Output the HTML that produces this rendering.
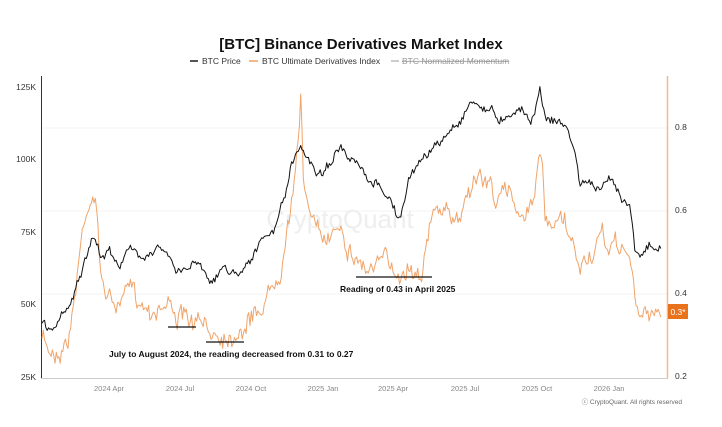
<!DOCTYPE html>
<html><head><meta charset="utf-8"><style>
body{margin:0;background:#fff;width:722px;height:422px;overflow:hidden;font-family:"Liberation Sans",sans-serif}
</style></head><body>
<svg id="s" width="722" height="422" xmlns="http://www.w3.org/2000/svg" font-family="Liberation Sans, sans-serif">
<text x="361" y="49" text-anchor="middle" font-size="15" font-weight="bold" fill="#111">[BTC] Binance Derivatives Market Index</text>
<line x1="190" y1="61" x2="198" y2="61" stroke="#555" stroke-width="2"/>
<text x="202" y="64" font-size="8.5" fill="#333">BTC Price</text>
<line x1="249" y1="61" x2="258" y2="61" stroke="#f3b98a" stroke-width="2"/>
<text x="262" y="64" font-size="8.5" fill="#333">BTC Ultimate Derivatives Index</text>
<line x1="391" y1="61" x2="399" y2="61" stroke="#ccc" stroke-width="2"/>
<text x="402" y="64" font-size="8.5" fill="#999" text-decoration="line-through">BTC Normalized Momentum</text>
<g stroke="#f3f3f3" stroke-width="1">
<line x1="42" y1="128" x2="667" y2="128"/><line x1="42" y1="211" x2="667" y2="211"/><line x1="42" y1="294" x2="667" y2="294"/>
</g>
<text x="340" y="228" text-anchor="middle" font-size="26" fill="#eee">CryptoQuant</text>
<line x1="41.5" y1="76" x2="41.5" y2="378" stroke="#333"/>
<line x1="41" y1="378.5" x2="668" y2="378.5" stroke="#ccc"/>
<line x1="667.5" y1="76" x2="667.5" y2="378" stroke="#f3b98a" stroke-width="1.5"/>
<g font-size="8.5" fill="#333" text-anchor="end">
<text x="36" y="90">125K</text><text x="36" y="162">100K</text><text x="36" y="235">75K</text><text x="36" y="307">50K</text><text x="36" y="380">25K</text>
</g>
<g font-size="8.5" fill="#333">
<text x="675" y="130">0.8</text><text x="675" y="213">0.6</text><text x="675" y="296">0.4</text><text x="675" y="379">0.2</text>
</g>
<g font-size="7.5" fill="#888" text-anchor="middle">
<text x="109" y="391">2024 Apr</text><text x="180" y="391">2024 Jul</text><text x="251" y="391">2024 Oct</text><text x="323" y="391">2025 Jan</text><text x="393" y="391">2025 Apr</text><text x="465" y="391">2025 Jul</text><text x="537" y="391">2025 Oct</text><text x="609" y="391">2026 Jan</text>
</g>
<g id="lines"></g>
<line x1="168" y1="327" x2="196" y2="327" stroke="#111" stroke-width="1.2"/>
<line x1="206" y1="342" x2="244" y2="342" stroke="#111" stroke-width="1.2"/>
<line x1="356" y1="277" x2="432" y2="277" stroke="#111" stroke-width="1.2"/>
<text x="340" y="292" font-size="8.5" font-weight="bold" fill="#111">Reading of 0.43 in April 2025</text>
<text x="109" y="357" font-size="8.5" font-weight="bold" fill="#111">July to August 2024, the reading decreased from 0.31 to 0.27</text>
<rect x="668" y="304" width="20" height="15" fill="#e8731c"/>
<text x="678" y="315" text-anchor="middle" font-size="8.5" fill="#fff">0.3*</text>
<text x="682" y="404" text-anchor="end" font-size="6.5" fill="#666">ⓒ CryptoQuant. All rights reserved</text>
</svg>
<script>
var B=[[42,322],[50,330],[60,318],[70,300],[80,275],[90,250],[95,240],[100,258],[110,252],[120,262],[130,250],[140,255],[150,248],[160,245],[170,260],[175,275],[185,270],[195,258],[205,270],[215,280],[225,265],[235,275],[245,262],[255,250],[265,240],[275,230],[285,195],[290,170],[300,150],[310,160],[320,175],[330,160],[340,148],[350,165],[360,170],[370,190],[380,185],[390,200],[400,220],[410,180],[420,160],[430,150],[440,145],[450,130],[460,120],[470,100],[480,105],[490,110],[500,120],[510,110],[520,105],[530,120],[540,90],[545,115],[555,120],[565,125],[575,150],[580,185],[590,180],[600,195],[610,180],[620,190],[630,205],[635,245],[640,250],[650,245],[655,255],[660,245],[662,258]];
var O=[[42,340],[50,352],[60,345],[70,330],[80,250],[85,210],[90,195],[95,185],[100,270],[110,300],[120,305],[130,295],[140,300],[150,305],[160,300],[170,300],[180,315],[190,325],[200,330],[210,335],[220,330],[230,332],[240,320],[250,318],[260,305],[270,290],[280,260],[285,230],[290,200],[295,175],[299,140],[301,90],[303,170],[310,210],[320,245],[330,235],[340,215],[350,245],[360,260],[370,268],[380,265],[390,270],[400,268],[410,260],[420,265],[430,225],[440,205],[450,225],[460,215],[470,180],[480,175],[490,185],[500,200],[510,195],[520,210],[530,205],[538,160],[542,170],[545,220],[550,240],[560,225],[570,245],[580,270],[590,255],[600,245],[610,250],[620,245],[630,255],[635,300],[640,325],[645,315],[655,305],[662,315]];
var seed=7;function r(){seed=(seed*16807)%2147483647;return seed/2147483647-0.5;}
function interp(P,x){for(var i=1;i<P.length;i++){if(x<=P[i][0]){var a=P[i-1],b=P[i];var t=(x-a[0])/(b[0]-a[0]);return a[1]+(b[1]-a[1])*t;}}return P[P.length-1][1];}
function build(P,amp,walk,col,w){var pts=[],wv=0;for(var x=42;x<=662;x+=1.3){wv=wv*0.85+r()*walk;var y=interp(P,x)+r()*amp+wv;pts.push(x.toFixed(1)+","+y.toFixed(1));}
return '<polyline points="'+pts.join(" ")+'" fill="none" stroke="'+col+'" stroke-width="'+w+'" stroke-linejoin="round"/>';}
document.getElementById("lines").innerHTML=build(O,12,13,"#f0a46a",1)+build(B,5,6,"#111",1);
</script>
</body></html>
